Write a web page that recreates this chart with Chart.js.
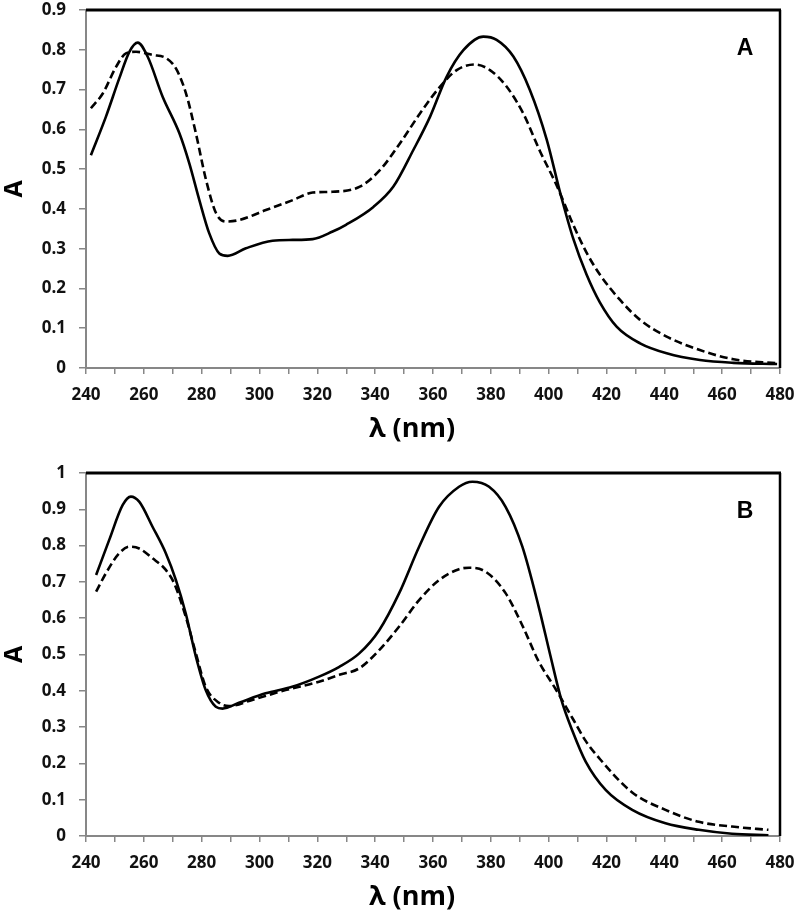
<!DOCTYPE html>
<html>
<head>
<meta charset="utf-8">
<script src="https://cdn.jsdelivr.net/npm/chart.js@4.4.0/dist/chart.umd.min.js"></script>
<style>
  html, body { margin: 0; padding: 0; background: #fff; }
  #wrap { position: relative; width: 798px; height: 917px; }
  canvas { position: absolute; left: 0; }
</style>
</head>
<body>
<div id="wrap">
  <canvas id="chartA" width="798" height="450" style="top:0"></canvas>
  <canvas id="chartB" width="798" height="467" style="top:450px"></canvas>
</div>
<script>
// panel A - solid curve
const wlA1 = [241.7, 246.9, 251.5, 255, 257.9, 261.3, 266.5, 272.3, 275.7, 279.2, 282.6, 286.1, 289, 295.3, 304.5, 311.5, 318.4, 325.3, 329.9, 339.4, 346.3, 353.2, 359, 364.7, 370.5, 377.4, 382, 387.8, 393.5, 399.3, 404, 408.5, 413.1, 417.7, 423.5, 431.6, 440.8, 452.3, 463.9, 479];
const absA1 = [0.535, 0.632, 0.728, 0.795, 0.818, 0.783, 0.682, 0.59, 0.515, 0.422, 0.339, 0.288, 0.282, 0.301, 0.32, 0.322, 0.324, 0.343, 0.36, 0.405, 0.456, 0.548, 0.632, 0.732, 0.799, 0.833, 0.825, 0.783, 0.699, 0.575, 0.44, 0.325, 0.235, 0.165, 0.104, 0.062, 0.037, 0.02, 0.013, 0.01];
// panel A - dashed curve
const wlA2 = [241.7, 245.8, 250.4, 253.8, 257.3, 263, 267.7, 271.1, 274.6, 278, 281.5, 285, 288.4, 293, 302.2, 311.5, 318.4, 325.3, 334.7, 341.7, 348.6, 355.5, 362.4, 368.2, 374.5, 379.7, 385.5, 391.2, 397, 402.7, 408.5, 413.1, 417.7, 424.7, 431.6, 440.8, 452.3, 463.9, 479];
const absA2 = [0.653, 0.69, 0.757, 0.791, 0.795, 0.787, 0.779, 0.753, 0.69, 0.59, 0.473, 0.389, 0.368, 0.372, 0.397, 0.422, 0.441, 0.443, 0.456, 0.498, 0.565, 0.64, 0.707, 0.749, 0.763, 0.749, 0.707, 0.64, 0.545, 0.46, 0.36, 0.29, 0.235, 0.171, 0.121, 0.079, 0.045, 0.022, 0.012];

// panel B - solid curve
const wlB1 = [243.5, 248, 252.7, 255.5, 258.4, 263, 267.6, 271.1, 274.5, 278, 281.4, 284.9, 287.2, 292.9, 302.1, 311.3, 320.6, 327.6, 334.5, 341.4, 348.3, 355.2, 362.1, 369, 373.6, 379.4, 385.1, 390.9, 396.6, 400.5, 404.4, 408.2, 412.8, 419.7, 428.9, 440.4, 451.9, 463.4, 476];
const absB1 = [0.719, 0.815, 0.912, 0.935, 0.921, 0.852, 0.779, 0.705, 0.613, 0.494, 0.402, 0.356, 0.351, 0.367, 0.393, 0.411, 0.439, 0.466, 0.503, 0.567, 0.669, 0.797, 0.907, 0.962, 0.976, 0.962, 0.907, 0.797, 0.63, 0.5, 0.375, 0.29, 0.205, 0.127, 0.072, 0.035, 0.017, 0.006, 0.002];
// panel B - dashed curve
const wlB2 = [243.5, 246.9, 251.5, 255, 258.4, 263, 267.6, 270.5, 274.5, 278, 281.4, 286, 289.5, 297.5, 309, 320.6, 327.6, 334.5, 341.4, 348.3, 355.2, 362.1, 369, 372.5, 378.2, 385.1, 390.9, 396.6, 402.4, 408.2, 412.8, 417.4, 428.9, 440.4, 451.9, 463.4, 476];
const absB2 = [0.673, 0.724, 0.779, 0.797, 0.792, 0.765, 0.733, 0.696, 0.604, 0.503, 0.411, 0.367, 0.358, 0.375, 0.402, 0.425, 0.444, 0.462, 0.512, 0.577, 0.65, 0.705, 0.735, 0.739, 0.728, 0.669, 0.58, 0.48, 0.405, 0.325, 0.262, 0.215, 0.12, 0.072, 0.039, 0.026, 0.017];

const pts = (xs, ys) => xs.map((x, i) => ({ x: x, y: ys[i] }));

const axisGray = '#878787';
const tickFont = { family: 'Open Sans', size: 17, weight: 'bold' };

// black top/right frame, panel letter and x title
const framePlugin = {
  id: 'frame',
  afterDraw(chart, args, opts) {
    const ctx = chart.ctx;
    const a = chart.chartArea;
    ctx.save();
    ctx.strokeStyle = '#000';
    ctx.lineWidth = 3;
    ctx.beginPath();
    ctx.moveTo(a.left, a.top);
    ctx.lineTo(a.right + 1, a.top);
    ctx.stroke();
    ctx.lineWidth = 2.5;
    ctx.beginPath();
    ctx.moveTo(a.right, a.top);
    ctx.lineTo(a.right, a.bottom);
    ctx.stroke();

    ctx.fillStyle = '#000';
    ctx.textAlign = 'center';
    ctx.textBaseline = 'middle';
    ctx.font = 'bold 23px "Liberation Sans"';
    ctx.fillText(opts.letter, a.right - 35, a.top + 39);

    ctx.font = 'bold 27px "Open Sans"';
    ctx.fillText('\u03bb (nm)', (a.left + a.right) / 2 - 21, a.bottom + 61);
    ctx.restore();
  }
};

function makeChart(id, solid, dashed, yMax, letter, padTop, xHeight) {
  return new Chart(document.getElementById(id), {
    type: 'line',
    data: {
      datasets: [{
        data: solid,
        borderColor: '#000',
        borderWidth: 2.6,
        pointRadius: 0,
        fill: false,
        cubicInterpolationMode: 'monotone'
      }, {
        data: dashed,
        borderColor: '#000',
        borderWidth: 2.6,
        borderDash: [8, 4],
        pointRadius: 0,
        fill: false,
        cubicInterpolationMode: 'monotone'
      }]
    },
    options: {
      responsive: false,
      animation: false,
      events: [],
      layout: { padding: { top: padTop, right: 18, left: 0, bottom: 0 } },
      plugins: {
        legend: { display: false },
        tooltip: { enabled: false },
        frame: { letter: letter }
      },
      scales: {
        x: {
          type: 'linear',
          min: 240,
          max: 480,
          afterFit: s => { s.height = xHeight; s.paddingLeft = 0; s.paddingRight = 0; },
          border: { color: axisGray, width: 2 },
          grid: { drawOnChartArea: false, color: axisGray, tickLength: 6, lineWidth: 1.5 },
          ticks: {
            stepSize: 10,
            autoSkip: false,
            maxRotation: 0,
            padding: 11,
            color: '#111',
            font: tickFont,
            callback: v => (v % 20 === 0 ? v : '')
          }
        },
        y: {
          min: 0,
          max: yMax,
          afterFit: s => { s.width = 86; s.paddingTop = 0; s.paddingBottom = 0; },
          border: { color: axisGray, width: 2 },
          grid: { drawOnChartArea: false, color: axisGray, tickLength: 7, lineWidth: 1.5 },
          ticks: {
            stepSize: 0.1,
            padding: 13,
            color: '#111',
            font: tickFont,
            callback: v => String(+v.toFixed(2))
          },
          title: {
            display: true,
            text: 'A',
            color: '#000',
            padding: 0,
            font: { family: 'Open Sans', size: 25, weight: 'bold' }
          }
        }
      }
    },
    plugins: [framePlugin]
  });
}

makeChart('chartA', pts(wlA1, absA1), pts(wlA2, absA2), 0.9, 'A', 10, 82);
makeChart('chartB', pts(wlB1, absB1), pts(wlB2, absB2), 1, 'B', 23, 81);
</script>
</body>
</html>
